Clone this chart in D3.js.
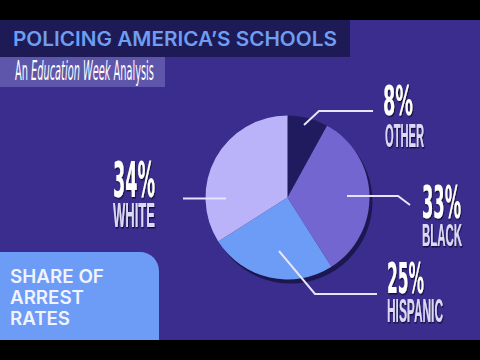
<!DOCTYPE html>
<html>
<head>
<meta charset="utf-8">
<script src="https://cdn.jsdelivr.net/npm/d3@7"></script>
<style>
  body { margin: 0; background: #000; }
  svg { display: block; }
</style>
</head>
<body>
<div id="chart"></div>
<script>
// Data
var categories = ["OTHER", "BLACK", "HISPANIC", "WHITE"];
var shares = [8, 33, 25, 34];
var sliceColors = ["#201b5e", "#7466d0", "#6c9cf6", "#bab3fa"];

// Dimensions
var svgWidth = 480;
var svgHeight = 360;

var svg = d3.select("#chart")
  .append("svg")
  .attr("width", svgWidth)
  .attr("height", svgHeight);

var defs = svg.append("defs");
defs.append("filter")
  .attr("id", "shadow")
  .attr("x", "-20%").attr("y", "-20%")
  .attr("width", "150%").attr("height", "150%")
  .append("feDropShadow")
  .attr("dx", 2).attr("dy", 1.5)
  .attr("stdDeviation", 0.4)
  .attr("flood-color", "#14103a")
  .attr("flood-opacity", 1);

// Background + black bars
svg.append("rect").attr("width", svgWidth).attr("height", svgHeight).attr("fill", "#000");
svg.append("rect").attr("x", 0).attr("y", 20).attr("width", svgWidth).attr("height", 320).attr("fill", "#3a2d8d");

// Squeeze a text horizontally so it fills a given width
function fitText(sel, x, y, w) {
  var len = sel.node().getComputedTextLength();
  sel.attr("x", 0).attr("y", 0)
    .attr("transform", `translate(${x}, ${y}) scale(${w / len}, 1)`);
  return sel;
}

// Title boxes
svg.append("rect").attr("x", 0).attr("y", 20).attr("width", 350).attr("height", 37).attr("fill", "#1d1a55");
svg.append("rect").attr("x", 0).attr("y", 57).attr("width", 165).attr("height", 30).attr("fill", "#5e56ab");

var title = svg.append("text")
  .attr("font-family", "Inter, Lato, sans-serif")
  .attr("font-weight", 600)
  .attr("font-size", 20)
  .attr("fill", "#6e9df1")
  .text("POLICING AMERICA\u2019S SCHOOLS");
fitText(title, 13, 46, 324);

var sub = svg.append("text")
  .attr("font-family", "'Liberation Sans Narrow', 'DejaVu Sans Condensed', sans-serif")
  .attr("font-size", 26.5)
  .attr("fill", "#ffffff");
sub.append("tspan").text("An ");
sub.append("tspan").attr("font-style", "italic").text("Education Week");
sub.append("tspan").text(" Analysis");
fitText(sub, 15, 80, 139);

// Pie
var cx = 287.5, cy = 197.5, radius = 82;
var pie = d3.pie().sort(null).value(d => d);
var arc = d3.arc().innerRadius(0).outerRadius(radius);
var arcs = pie(shares);

var pieGroup = svg.append("g").attr("transform", `translate(${cx}, ${cy})`);
pieGroup.append("circle")
  .attr("cx", 3).attr("cy", 4)
  .attr("r", radius)
  .attr("fill", "#1c1750");
pieGroup.selectAll("path.slice")
  .data(arcs)
  .enter()
  .append("path")
  .attr("class", "slice")
  .attr("d", arc)
  .attr("fill", (d, i) => sliceColors[i]);

// Label layout (annotation positions)
var labelLayout = [
  { line: [[304, 125], [319, 111], [373, 111]], px: 383, py: 115, pw: 30, ps: 41, nx: 385, ny: 147, nw: 39, ns: 33 },
  { line: [[347, 196], [398, 196], [410, 205]], px: 422, py: 218, pw: 39, ps: 45, nx: 422, ny: 246, nw: 40, ns: 32 },
  { line: [[279, 251], [315, 294], [377, 294]], px: 387, py: 293, pw: 37, ps: 43, nx: 387, ny: 322, nw: 56, ns: 33 },
  { line: [[226, 198.5], [183, 198.5]], px: 113, py: 197, pw: 42, ps: 49, nx: 113, ny: 227, nw: 42, ns: 35 }
];

var lineGen = d3.line();

labelLayout.forEach(function(l, i) {
  svg.append("path")
    .attr("d", lineGen(l.line))
    .attr("fill", "none")
    .attr("stroke", "#e6e3fb")
    .attr("stroke-width", 2);

  var pct = svg.append("text")
    .attr("font-family", "'DejaVu Sans Condensed', sans-serif")
    .attr("font-weight", "bold")
    .attr("font-size", l.ps)
    .attr("fill", "#ffffff")
    .attr("filter", "url(#shadow)")
    .text(shares[i] + "%");
  fitText(pct, l.px, l.py, l.pw);

  var name = svg.append("text")
    .attr("font-family", "'Liberation Sans Narrow', sans-serif")
    .attr("font-weight", "bold")
    .attr("font-size", l.ns)
    .attr("fill", "#dcd9f8")
    .attr("filter", "url(#shadow)")
    .text(categories[i]);
  fitText(name, l.nx, l.ny, l.nw);
});

// Share of arrest rates box
svg.append("path")
  .attr("d", "M0,252 L140,252 A19,19 0 0 1 159,271 L159,340 L0,340 Z")
  .attr("fill", "#6c9cf6");

var boxLines = [["SHARE OF", 94, 283], ["ARREST", 74, 304], ["RATES", 60, 325]];
boxLines.forEach(function(b) {
  var t = svg.append("text")
    .attr("font-family", "Inter, Lato, sans-serif")
    .attr("font-weight", 600)
    .attr("font-size", 19)
    .attr("fill", "#f2f3ff")
    .text(b[0]);
  fitText(t, 10, b[2], b[1]);
});
</script>
</body>
</html>
